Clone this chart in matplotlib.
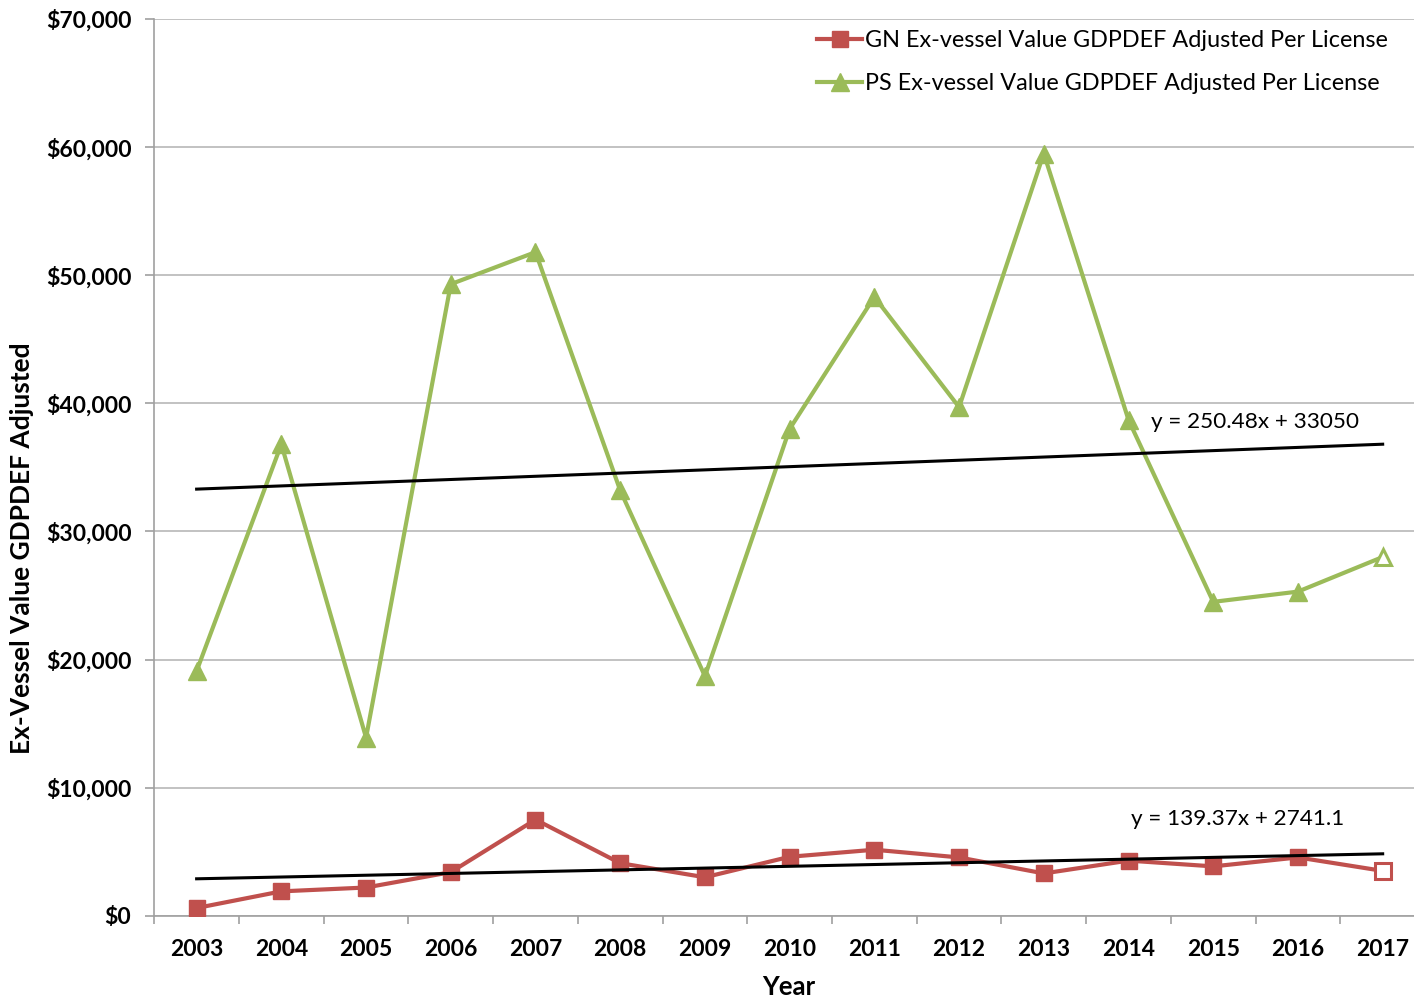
import matplotlib
matplotlib.use("Agg")
import matplotlib.pyplot as plt
import numpy as np
from matplotlib.ticker import FuncFormatter, FixedLocator
from matplotlib.lines import Line2D

plt.rcParams['font.family'] = ['Lato', 'DejaVu Sans']

years = ['2003', '2004', '2005', '2006', '2007', '2008', '2009', '2010',
         '2011', '2012', '2013', '2014', '2015', '2016', '2017']
gn_values = [600, 1900, 2200, 3400, 7500, 4100, 3000, 4600,
             5150, 4550, 3300, 4300, 3850, 4550, 3500]
ps_values = [19100, 36800, 13900, 49300, 51800, 33200, 18700, 38000,
             48300, 39700, 59500, 38700, 24500, 25300, 28000]
gn_trend = (139.37, 2741.1)
ps_trend = (250.48, 33050)
gn_label = 'GN Ex-vessel Value GDPDEF Adjusted Per License'
ps_label = 'PS Ex-vessel Value GDPDEF Adjusted Per License'
gn_eq = 'y = 139.37x + 2741.1'
ps_eq = 'y = 250.48x + 33050'

red = '#C0504D'
green = '#9BBB59'

fig = plt.figure(figsize=(14.14, 10.0), dpi=100)
ax = fig.add_axes([0.1091, 0.0843, 0.8987, 0.8967])

x = np.arange(len(years))
n = len(years)

ax.plot(x, gn_values, color=red, lw=3, zorder=3)
ax.plot(x[:-1], gn_values[:-1], ls='none', marker='s', ms=12, color=red, zorder=4)
ax.plot(x[-1:], gn_values[-1:], ls='none', marker='s', ms=11, mfc='white', mec=red, mew=2.2, zorder=4)
ax.plot(x, ps_values, color=green, lw=3, zorder=3)
ax.plot(x[:-1], ps_values[:-1], ls='none', marker='^', ms=12.5, color=green, zorder=4)
ax.plot(x[-1:], ps_values[-1:], ls='none', marker='^', ms=11.5, mfc='white', mec=green, mew=2.2, zorder=4)

xi = np.arange(1, n + 1)
ax.plot(x, gn_trend[0] * xi + gn_trend[1], color='black', lw=2.2, zorder=5)
ax.plot(x, ps_trend[0] * xi + ps_trend[1], color='black', lw=2.2, zorder=5)
ax.text(11.03, 7550, gn_eq, fontsize=16.2, ha='left', va='center')
ax.text(11.27, 38540, ps_eq, fontsize=16.2, ha='left', va='center')

h1 = Line2D([], [], color=red, lw=3, marker='s', ms=12)
h2 = Line2D([], [], color=green, lw=3, marker='^', ms=12.5)
ax.legend([h1, h2], [gn_label, ps_label], loc='upper left', frameon=False,
          fontsize=16.8, handlelength=1.93, handletextpad=0.13, labelspacing=0.94,
          borderaxespad=0, borderpad=0.4,
          bbox_to_anchor=(0.5712, 0.979), bbox_transform=fig.transFigure)

ax.set_xlim(-0.5, n - 0.5)
ax.set_ylim(0, 70000)
ax.set_xticks(x)
ax.set_xticklabels(years, fontsize=16.5, fontweight='bold')
ax.xaxis.set_minor_locator(FixedLocator(np.arange(-0.5, n, 1.0)))
ax.tick_params(axis='x', which='major', length=0, pad=17)
ax.tick_params(axis='x', which='minor', length=6, color='#A0A0A0', width=1.2)
ax.set_yticks(np.arange(0, 70001, 10000))
ax.yaxis.set_major_formatter(FuncFormatter(lambda v, p: '${:,.0f}'.format(v)))
ax.tick_params(axis='y', length=6.5, color='#A0A0A0', width=1.2, labelsize=16.5, pad=10)
for lbl in ax.get_yticklabels():
    lbl.set_fontweight('bold')

ax.grid(axis='y', color='#B8B8B8', lw=1.2, zorder=0)
ax.set_axisbelow(True)
for s in ['top', 'right']:
    ax.spines[s].set_visible(False)
for s in ['left', 'bottom']:
    ax.spines[s].set_color('#A0A0A0')
    ax.spines[s].set_linewidth(1.2)

fig.text(789 / 1414, 1 - 987 / 1000, 'Year', fontsize=18.5, fontweight='bold',
         ha='center', va='center')
fig.text(22 / 1414, 1 - 548 / 1000, 'Ex-Vessel Value GDPDEF Adjusted', fontsize=19,
         fontweight='bold', rotation=90, ha='center', va='center')

fig.savefig('out.png', dpi=100)
